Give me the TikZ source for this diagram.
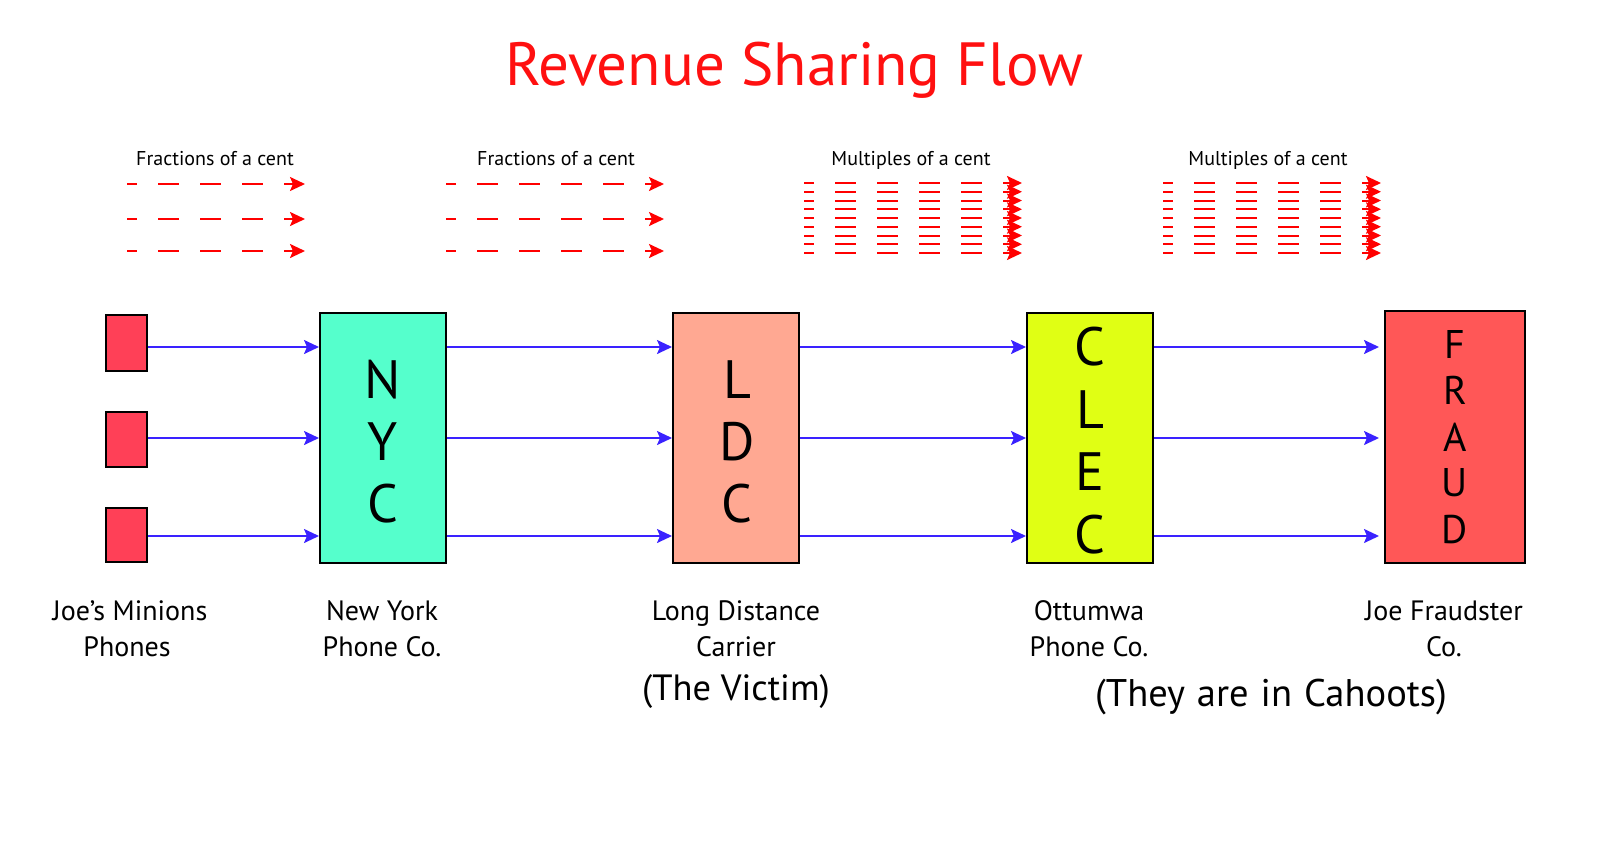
\documentclass[tikz,border=0pt]{standalone}
\usepackage{fontspec}
\setmainfont{PT Sans}
\usetikzlibrary{arrows.meta}
\definecolor{flowblue}{HTML}{3A22FF}
\definecolor{phonered}{HTML}{FF4057}
\definecolor{nycgreen}{HTML}{55FFCC}
\definecolor{ldcsalmon}{HTML}{FFA892}
\definecolor{clecyellow}{HTML}{E0FF14}
\definecolor{fraudred}{HTML}{FF5757}
\definecolor{titlered}{HTML}{FF1010}
\begin{document}
\begin{tikzpicture}[x=1pt,y=-1pt,
  box/.style={draw=black, line width=2pt, rectangle, inner sep=0pt},
  flow/.style={draw=flowblue, line width=2pt, -{Stealth[length=15pt,width=14pt,inset=3pt]}},
  cent/.style={draw=red, line width=2pt, dash pattern=on 21pt off 21pt, dash phase=11pt, -{Stealth[length=15pt,width=14pt,inset=3pt]}},
  bigletter/.style={font=\fontsize{54}{54}\selectfont, inner sep=0pt},
  fraudletter/.style={font=\fontsize{40}{40}\selectfont, inner sep=0pt},
  lbl/.style={font=\fontsize{28}{28}\selectfont, anchor=base, inner sep=0pt},
  note/.style={font=\fontsize{36.5}{36.5}\selectfont, anchor=base, inner sep=0pt},
  small/.style={font=\fontsize{20}{20}\selectfont, anchor=base, inner sep=0pt}]
\useasboundingbox (0,0) rectangle (1600,843);

% title
\node[anchor=base, text=titlered, font=\fontsize{61}{61}\selectfont, inner sep=0pt] (title) at (794,85) {Revenue Sharing Flow};

% money labels
\node[small] (m1) at (215,165) {Fractions of a cent};
\node[small] (m2) at (556,165) {Fractions of a cent};
\node[small] (m3) at (911,165) {Multiples of a cent};
\node[small] (m4) at (1268,165) {Multiples of a cent};

% row coordinates for dashes
\foreach \y [count=\i] in {184,219,251} {
  \coordinate (a\i s) at (127,\y);  \coordinate (a\i e) at (305,\y);
  \coordinate (b\i s) at (446,\y);  \coordinate (b\i e) at (664,\y);
  \draw[cent] (a\i s) -- (a\i e);
  \draw[cent] (b\i s) -- (b\i e);
}
\foreach \i in {0,...,8} {
  \pgfmathsetmacro{\y}{183+\i*8.75}
  \coordinate (c\i s) at (804,\y);  \coordinate (c\i e) at (1022,\y);
  \coordinate (d\i s) at (1163,\y); \coordinate (d\i e) at (1381,\y);
  \draw[cent] (c\i s) -- (c\i e);
  \draw[cent] (d\i s) -- (d\i e);
}

% phones
\node[box, fill=phonered, minimum width=41pt, minimum height=56pt] (p1) at (126.5,343) {};
\node[box, fill=phonered, minimum width=41pt, minimum height=55pt] (p2) at (126.5,439) {};
\node[box, fill=phonered, minimum width=41pt, minimum height=54pt] (p3) at (126.5,535) {};

% main boxes
\node[box, fill=nycgreen, minimum width=126pt, minimum height=250pt] (nyc) at (383,438) {};
\node[box, fill=ldcsalmon, minimum width=126pt, minimum height=250pt] (ldc) at (736,438) {};
\node[box, fill=clecyellow, minimum width=126pt, minimum height=250pt] (clec) at (1090,438) {};
\node[box, fill=fraudred, minimum width=140pt, minimum height=252pt] (fraud) at (1455,437) {};

% letters
\node[bigletter] (n1) at (383,380) {N};
\node[bigletter] (n2) at (383,442) {Y};
\node[bigletter] (n3) at (383,504) {C};
\node[bigletter] (l1) at (737,380) {L};
\node[bigletter] (l2) at (737,442) {D};
\node[bigletter] (l3) at (737,504) {C};
\node[bigletter] (c1) at (1090,347) {C};
\node[bigletter] (c2) at (1090,410) {L};
\node[bigletter] (c3) at (1090,472) {E};
\node[bigletter] (c4) at (1090,535) {C};
\node[fraudletter] (f1) at (1455,344) {F};
\node[fraudletter] (f2) at (1455,390) {R};
\node[fraudletter] (f3) at (1455,437) {A};
\node[fraudletter] (f4) at (1455,483) {U};
\node[fraudletter] (f5) at (1455,530) {D};

% flow rows
\coordinate (r1) at (0,347);
\coordinate (r2) at (0,438);
\coordinate (r3) at (0,536);
\draw[flow] (p1.east |- r1) -- (nyc.west |- r1);
\draw[flow] (p2.east |- r2) -- (nyc.west |- r2);
\draw[flow] (p3.east |- r3) -- (nyc.west |- r3);
\foreach \i in {1,2,3} {
  \draw[flow] (nyc.east |- r\i) -- (ldc.west |- r\i);
  \draw[flow] (ldc.east |- r\i) -- (clec.west |- r\i);
  \draw[flow, shorten >=5pt] (clec.east |- r\i) -- (fraud.west |- r\i);
}

% labels
\node[lbl] (j1) at (130,620) {Joe’s Minions};
\node[lbl] (j2) at (127,656) {Phones};
\node[lbl] (y1) at (382,620) {New York};
\node[lbl] (y2) at (382,656) {Phone Co.};
\node[lbl] (d1) at (736,620) {Long Distance};
\node[lbl] (d2) at (736,656) {Carrier};
\node[lbl] (o1) at (1089,620) {Ottumwa};
\node[lbl] (o2) at (1089,656) {Phone Co.};
\node[lbl] (q1) at (1444,620) {Joe Fraudster};
\node[lbl] (q2) at (1444,656) {Co.};
\node[note] (victim) at (736,700) {(The Victim)};
\node[note, font=\fontsize{38.5}{38.5}\selectfont] (cahoots) at (1271,706) {\spaceskip=12pt (They are in Cahoots)};
\end{tikzpicture}
\end{document}
